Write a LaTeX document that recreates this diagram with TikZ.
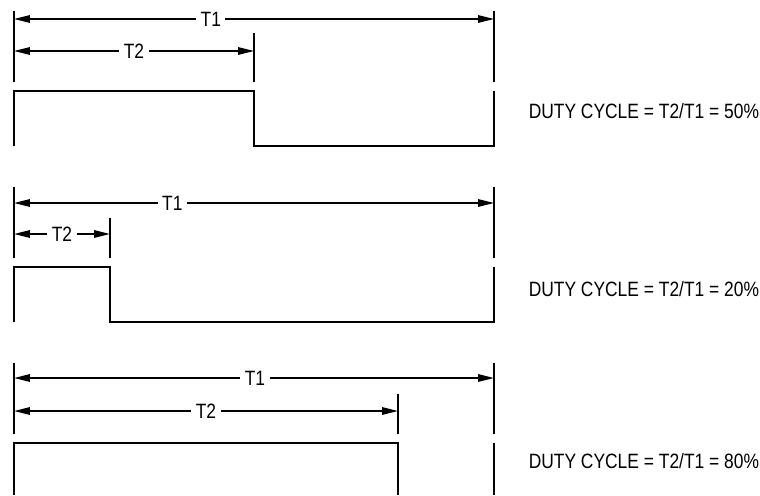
\documentclass[tikz,border=0pt]{standalone}
\usepackage{fontspec}
\setmainfont{Liberation Sans}[FakeStretch=0.84]
\usepackage{tikz}
\usetikzlibrary{arrows.meta}

\begin{document}
\begin{tikzpicture}[x=0.02cm, y=-0.02cm, line width=0.85pt,
	font=\fontsize{11.8}{13}\selectfont,
	dim/.style={{Triangle[length=9pt, width=4.2pt]}-{Triangle[length=9pt, width=4.2pt]}},
	lab/.style={fill=white, inner xsep=2.5pt, inner ysep=1pt},
	duty/.style={anchor=west, inner sep=0pt}]
	\useasboundingbox (0,0) rectangle (760,495);

	% ciclo 50%
	\draw (14,11) -- (14,82) (254,33) -- (254,82) (494,11) -- (494,82);
	\coordinate (a1) at (14,19);  \coordinate (b1) at (494,19);
	\coordinate (c1) at (14,51);  \coordinate (d1) at (254,51);
	\draw[dim] (a1) -- node[lab, pos=0.41] (t1a) {T1} (b1);
	\draw[dim] (c1) -- node[lab] (t2a) {T2} (d1);
	\draw (14,146) -- (14,91) -- (254,91) -- (254,146) -- (494,146) -- (494,91);
	\node[duty] (dc1) at (528,111) {DUTY CYCLE = T2/T1 = 50\%};

	% ciclo 20%
	\draw (14,187) -- (14,258) (110,218) -- (110,258) (494,187) -- (494,258);
	\coordinate (a2) at (14,203);  \coordinate (b2) at (494,203);
	\coordinate (c2) at (14,234);  \coordinate (d2) at (110,234);
	\draw[dim] (a2) -- node[lab, pos=0.33] (t1b) {T1} (b2);
	\draw[dim] (c2) -- node[lab] (t2b) {T2} (d2);
	\draw (14,322) -- (14,267) -- (110,267) -- (110,322) -- (494,322) -- (494,267);
	\node[duty] (dc2) at (528,289) {DUTY CYCLE = T2/T1 = 20\%};

	% ciclo 80%
	\draw (14,363) -- (14,434) (398,394) -- (398,434) (494,363) -- (494,434);
	\coordinate (a3) at (14,378);  \coordinate (b3) at (494,378);
	\coordinate (c3) at (14,411);  \coordinate (d3) at (398,411);
	\draw[dim] (a3) -- node[lab, pos=0.502] (t1c) {T1} (b3);
	\draw[dim] (c3) -- node[lab] (t2c) {T2} (d3);
	\draw (14,495) -- (14,443) -- (398,443) -- (398,495);
	\draw (494,443) -- (494,495);
	\node[duty] (dc3) at (528,461) {DUTY CYCLE = T2/T1 = 80\%};
\end{tikzpicture}
\end{document}
